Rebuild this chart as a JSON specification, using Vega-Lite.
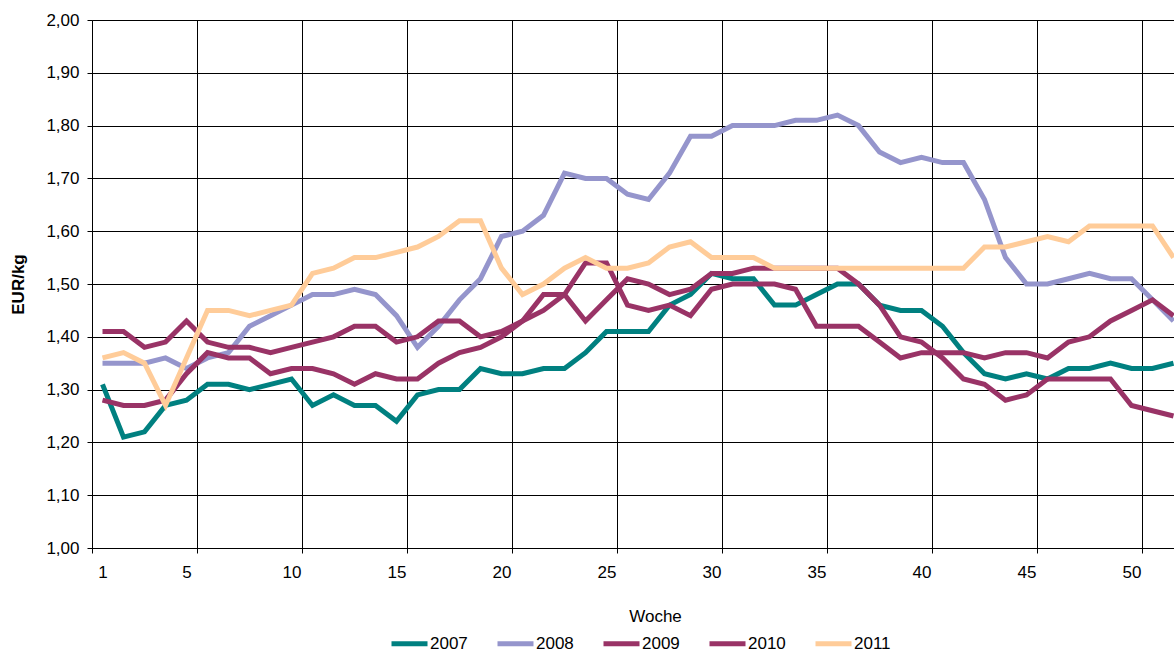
{
  "$schema": "https://vega.github.io/schema/vega-lite/v6.json",
  "width": 1082,
  "height": 528,
  "autosize": {"type": "none"},
  "padding": {"left": 92, "top": 20, "right": 0, "bottom": 103},
  "background": "white",
  "config": {"view": {"stroke": null}, "font": "Liberation Sans"},
  "data": {"values": [
    {"w":1,"2007":1.31,"2008":1.35,"2009":1.41,"2010":1.28,"2011":1.36},
    {"w":2,"2007":1.21,"2008":1.35,"2009":1.41,"2010":1.27,"2011":1.37},
    {"w":3,"2007":1.22,"2008":1.35,"2009":1.38,"2010":1.27,"2011":1.35},
    {"w":4,"2007":1.27,"2008":1.36,"2009":1.39,"2010":1.28,"2011":1.27},
    {"w":5,"2007":1.28,"2008":1.34,"2009":1.43,"2010":1.33,"2011":1.36},
    {"w":6,"2007":1.31,"2008":1.36,"2009":1.39,"2010":1.37,"2011":1.45},
    {"w":7,"2007":1.31,"2008":1.37,"2009":1.38,"2010":1.36,"2011":1.45},
    {"w":8,"2007":1.30,"2008":1.42,"2009":1.38,"2010":1.36,"2011":1.44},
    {"w":9,"2007":1.31,"2008":1.44,"2009":1.37,"2010":1.33,"2011":1.45},
    {"w":10,"2007":1.32,"2008":1.46,"2009":1.38,"2010":1.34,"2011":1.46},
    {"w":11,"2007":1.27,"2008":1.48,"2009":1.39,"2010":1.34,"2011":1.52},
    {"w":12,"2007":1.29,"2008":1.48,"2009":1.40,"2010":1.33,"2011":1.53},
    {"w":13,"2007":1.27,"2008":1.49,"2009":1.42,"2010":1.31,"2011":1.55},
    {"w":14,"2007":1.27,"2008":1.48,"2009":1.42,"2010":1.33,"2011":1.55},
    {"w":15,"2007":1.24,"2008":1.44,"2009":1.39,"2010":1.32,"2011":1.56},
    {"w":16,"2007":1.29,"2008":1.38,"2009":1.40,"2010":1.32,"2011":1.57},
    {"w":17,"2007":1.30,"2008":1.42,"2009":1.43,"2010":1.35,"2011":1.59},
    {"w":18,"2007":1.30,"2008":1.47,"2009":1.43,"2010":1.37,"2011":1.62},
    {"w":19,"2007":1.34,"2008":1.51,"2009":1.40,"2010":1.38,"2011":1.62},
    {"w":20,"2007":1.33,"2008":1.59,"2009":1.41,"2010":1.40,"2011":1.53},
    {"w":21,"2007":1.33,"2008":1.60,"2009":1.43,"2010":1.43,"2011":1.48},
    {"w":22,"2007":1.34,"2008":1.63,"2009":1.48,"2010":1.45,"2011":1.50},
    {"w":23,"2007":1.34,"2008":1.71,"2009":1.48,"2010":1.48,"2011":1.53},
    {"w":24,"2007":1.37,"2008":1.70,"2009":1.43,"2010":1.54,"2011":1.55},
    {"w":25,"2007":1.41,"2008":1.70,"2009":1.47,"2010":1.54,"2011":1.53},
    {"w":26,"2007":1.41,"2008":1.67,"2009":1.51,"2010":1.46,"2011":1.53},
    {"w":27,"2007":1.41,"2008":1.66,"2009":1.50,"2010":1.45,"2011":1.54},
    {"w":28,"2007":1.46,"2008":1.71,"2009":1.48,"2010":1.46,"2011":1.57},
    {"w":29,"2007":1.48,"2008":1.78,"2009":1.49,"2010":1.44,"2011":1.58},
    {"w":30,"2007":1.52,"2008":1.78,"2009":1.52,"2010":1.49,"2011":1.55},
    {"w":31,"2007":1.51,"2008":1.80,"2009":1.52,"2010":1.50,"2011":1.55},
    {"w":32,"2007":1.51,"2008":1.80,"2009":1.53,"2010":1.50,"2011":1.55},
    {"w":33,"2007":1.46,"2008":1.80,"2009":1.53,"2010":1.50,"2011":1.53},
    {"w":34,"2007":1.46,"2008":1.81,"2009":1.53,"2010":1.49,"2011":1.53},
    {"w":35,"2007":1.48,"2008":1.81,"2009":1.53,"2010":1.42,"2011":1.53},
    {"w":36,"2007":1.50,"2008":1.82,"2009":1.53,"2010":1.42,"2011":1.53},
    {"w":37,"2007":1.50,"2008":1.80,"2009":1.50,"2010":1.42,"2011":1.53},
    {"w":38,"2007":1.46,"2008":1.75,"2009":1.46,"2010":1.39,"2011":1.53},
    {"w":39,"2007":1.45,"2008":1.73,"2009":1.40,"2010":1.36,"2011":1.53},
    {"w":40,"2007":1.45,"2008":1.74,"2009":1.39,"2010":1.37,"2011":1.53},
    {"w":41,"2007":1.42,"2008":1.73,"2009":1.36,"2010":1.37,"2011":1.53},
    {"w":42,"2007":1.37,"2008":1.73,"2009":1.32,"2010":1.37,"2011":1.53},
    {"w":43,"2007":1.33,"2008":1.66,"2009":1.31,"2010":1.36,"2011":1.57},
    {"w":44,"2007":1.32,"2008":1.55,"2009":1.28,"2010":1.37,"2011":1.57},
    {"w":45,"2007":1.33,"2008":1.50,"2009":1.29,"2010":1.37,"2011":1.58},
    {"w":46,"2007":1.32,"2008":1.50,"2009":1.32,"2010":1.36,"2011":1.59},
    {"w":47,"2007":1.34,"2008":1.51,"2009":1.32,"2010":1.39,"2011":1.58},
    {"w":48,"2007":1.34,"2008":1.52,"2009":1.32,"2010":1.40,"2011":1.61},
    {"w":49,"2007":1.35,"2008":1.51,"2009":1.32,"2010":1.43,"2011":1.61},
    {"w":50,"2007":1.34,"2008":1.51,"2009":1.27,"2010":1.45,"2011":1.61},
    {"w":51,"2007":1.34,"2008":1.47,"2009":1.26,"2010":1.47,"2011":1.61},
    {"w":52,"2007":1.35,"2008":1.43,"2009":1.25,"2010":1.44,"2011":1.55}
  ]},
  "transform": [{"fold": ["2007","2008","2009","2010","2011"], "as": ["Jahr","price"]}],
  "mark": {"type": "line", "strokeWidth": 5},
  "encoding": {
    "x": {
      "field": "w", "type": "quantitative",
      "scale": {"domain": [0.5, 52.024], "nice": false, "zero": false},
      "axis": {
        "values": [0.5,1,5,5.5,10,10.5,15,15.5,20,20.5,25,25.5,30,30.5,35,35.5,40,40.5,45,45.5,50,50.5],
        "labelExpr": "datum.value % 1 == 0 ? format(datum.value, 'd') : ''",
        "grid": true,
        "gridColor": "#000000",
        "gridOpacity": {"condition": {"test": "datum.value % 1 != 0", "value": 1}, "value": 0},
        "ticks": true,
        "tickSize": 5,
        "tickColor": "#000000",
        "tickOpacity": {"condition": {"test": "datum.value % 1 != 0", "value": 1}, "value": 0},
        "domainColor": "#000000",
        "labelFontSize": 17,
        "labelColor": "#000000",
        "labelPadding": 11,
        "labelFlush": false,
        "labelOverlap": false,
        "title": "Woche",
        "titleFontSize": 17,
        "titleFontWeight": "normal",
        "titleColor": "#000000",
        "titleX": 563,
        "titleY": 73,
        "titleBaseline": "alphabetic"
      }
    },
    "y": {
      "field": "price", "type": "quantitative",
      "scale": {"domain": [1, 2], "nice": false, "zero": false},
      "axis": {
        "values": [1,1.1,1.2,1.3,1.4,1.5,1.6,1.7,1.8,1.9,2],
        "labelExpr": "replace(format(datum.value, '.2f'), '.', ',')",
        "grid": true,
        "gridColor": "#000000",
        "tickSize": 5,
        "tickColor": "#000000",
        "domainColor": "#000000",
        "labelFontSize": 17,
        "labelColor": "#000000",
        "labelPadding": 8,
        "labelOverlap": false,
        "title": "EUR/kg",
        "titleFontSize": 17,
        "titleFontWeight": "bold",
        "titleColor": "#000000",
        "titleAngle": 270,
        "titleX": -73.5,
        "titleY": 264,
        "titleAlign": "center",
        "titleBaseline": "middle"
      }
    },
    "color": {
      "field": "Jahr", "type": "nominal",
      "scale": {"domain": ["2007","2008","2009","2010","2011"], "range": ["#008080","#9595CC","#993366","#993366","#FFCC99"]},
      "legend": {
        "orient": "none",
        "legendX": 297,
        "legendY": 603,
        "direction": "horizontal",
        "title": null,
        "symbolType": "stroke",
        "symbolSize": 1296,
        "symbolStrokeWidth": 5,
        "labelFontSize": 17,
        "labelColor": "#000000",
        "labelOffset": 0,
        "columnPadding": 19,
        "padding": 0
      }
    }
  }
}
